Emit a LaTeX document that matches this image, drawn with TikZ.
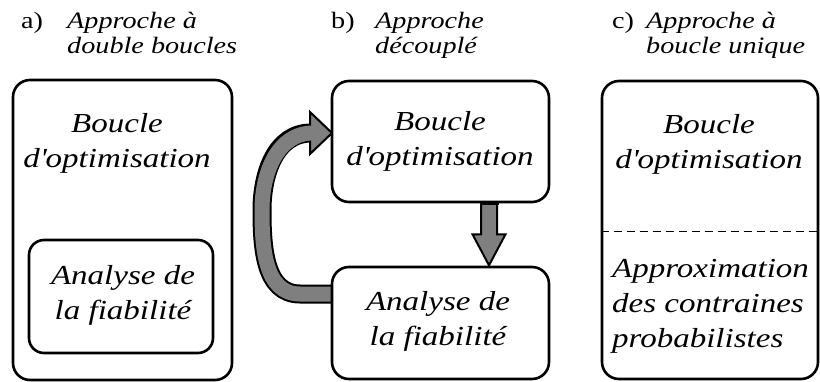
\documentclass[tikz,border=0pt]{standalone}
\usepackage{fontspec}
\setmainfont[FakeStretch=1.2]{Liberation Serif}
\usetikzlibrary{calc}
\definecolor{arrowgray}{HTML}{7F7F7F}
\tikzset{
  box/.style={draw=black, line width=2.6pt, rounded corners=17pt, fill=white, inner sep=0pt},
  boxtxt/.style={inner sep=0pt, font=\fontsize{27.5}{35}\selectfont\itshape},
  headtxt/.style={inner sep=0pt, font=\fontsize{23.5}{25}\selectfont\itshape, align=left, anchor=base west},
  headlbl/.style={inner sep=0pt, font=\fontsize{23.5}{25}\selectfont, anchor=base west},
  fatline/.style={draw=black, line width=2pt, fill=arrowgray, line join=miter}
}
\begin{document}
\begin{tikzpicture}[x=1pt,y=-1pt]
\useasboundingbox (0,0) rectangle (820,381);
% headers (multi-line nodes: base anchor = last line)
\node[headlbl] (la) at (21,28) {a)};
\node[headtxt] (ta) at (67,53) {Approche à\\double boucles};
\node[headlbl] (lb) at (331,28) {b)};
\node[headtxt] (tb) at (375,53) {Approche\\découplé};
\node[headlbl] (lc) at (612,28) {c)};
\node[headtxt] (tc) at (646,53) {Approche à\\boucle unique};

% curved arrow (drawn under boxes)
\coordinate (cstart) at (336,294);
\coordinate (cbase) at (311,133);
\draw[line width=19pt, black] (cstart) -- (300,294) to[out=180,in=270] (262,210) to[out=90,in=180] (cbase);
\filldraw[fatline] (310,112) -- (332,133) -- (310,154) -- cycle;
\draw[line width=15pt, arrowgray] (cstart) -- (300,294) to[out=180,in=270] (262,210) to[out=90,in=180] (313,133);

% a) double loops
\node[box, minimum width=219pt, minimum height=300pt] (aout) at (122.5,230) {};
\node[box, rounded corners=15pt, minimum width=184pt, minimum height=113pt] (ain) at (121,296.5) {};
\node[boxtxt, align=center, anchor=base] (atop) at (117,167) {Boucle\\d\textquotesingle optimisation};
\node[boxtxt, align=center, anchor=base] (aana) at (123,319) {Analyse de\\la fiabilité};

% b) decoupled
\node[box, minimum width=217pt, minimum height=121pt] (bopt) at (440.5,141.5) {};
\node[box, minimum width=217pt, minimum height=112pt] (bana) at (440.5,323) {};
\node[boxtxt, align=center, anchor=base] (btop) at (440,165) {Boucle\\d\textquotesingle optimisation};
\node[boxtxt, align=center, anchor=base] (bbot) at (438,345) {Analyse de\\la fiabilité};
\coordinate (d0) at ($(bopt.south)+(48.5,0)$);
\filldraw[fatline] ($(d0)+(-8,-1)$) -- ($(d0)+(-8,31)$) -- ($(d0)+(-16.5,31)$) -- ($(d0)+(0,62)$) -- ($(d0)+(16.5,31)$) -- ($(d0)+(8,31)$) -- ($(d0)+(8,-1)$);
\draw[line width=2.6pt] ($(bopt.south)+(40,0)$) -- ($(bopt.south)+(58,0)$);

% c) single loop
\node[box, minimum width=216pt, minimum height=298pt] (cbox) at (710,230) {};
\coordinate (dl) at (cbox.west |- 0,231);
\coordinate (dr) at (cbox.east |- 0,231);
\draw[line width=1pt, dash pattern=on 8pt off 5pt] (dl) -- (dr);
\node[boxtxt, align=center, anchor=base] (ctop) at (709,168) {Boucle\\d\textquotesingle optimisation};
\node[boxtxt, align=left, anchor=base west] (cbot) at (612,347) {Approximation\\des contraines\\probabilistes};
\end{tikzpicture}
\end{document}
